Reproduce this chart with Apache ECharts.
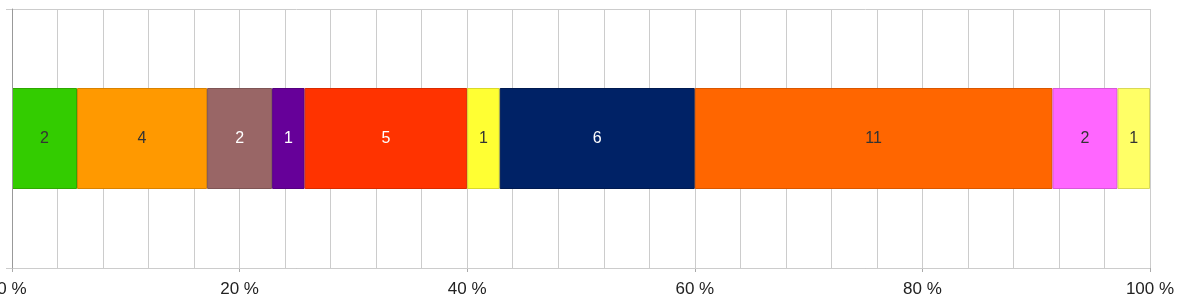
<!DOCTYPE html>
<html><head><meta charset="utf-8">
<script src="https://cdn.jsdelivr.net/npm/echarts@6/dist/echarts.min.js"></script>
<style>html,body{margin:0;padding:0;background:#fff}#c{width:1187px;height:306px}</style>
</head><body><div id="c"></div>
<script>
var categories = ['A'];
var values = [2, 4, 2, 1, 5, 1, 6, 11, 2, 1];
var colors = ['#33cc00', '#ff9900', '#996666', '#660099', '#ff3300', '#ffff33', '#002266', '#ff6600', '#ff66ff', '#ffff66'];
var borders = ['#2ea800', '#d98200', '#7f5555', '#55007f', '#d92b00', '#d9d92b', '#001a50', '#d95700', '#d957d9', '#d9d957'];
var labelColors = ['#333', '#333', '#fff', '#fff', '#fff', '#333', '#fff', '#333', '#333', '#333'];
var xTicks = [0, 20, 40, 60, 80, 100];
var total = values.reduce(function(a, b){ return a + b; }, 0);
var series = values.map(function(v, i){
  return {
    type: 'bar', stack: 's', barWidth: 101,
    data: [v / total * 100],
    itemStyle: { color: colors[i], borderColor: borders[i], borderWidth: 1 },
    label: { show: true, position: 'inside', formatter: String(v), color: labelColors[i],
             fontSize: 16, fontFamily: 'Liberation Sans, Arial, sans-serif' }
  };
});
var chart = echarts.init(document.getElementById('c'));
chart.setOption({
  animation: false,
  grid: { left: 12, right: 37, top: 9, bottom: 38, containLabel: false, outerBoundsMode: 'none' },
  xAxis: {
    type: 'value', min: 0, max: 100, interval: 20,
    axisLine: { show: true, lineStyle: { color: '#aaa', width: 1 } },
    axisTick: { show: true, length: 4, lineStyle: { color: '#aaa' } },
    axisLabel: { formatter: function(v){ return xTicks.indexOf(v) >= 0 ? v + ' %' : ''; },
                 color: '#222', fontSize: 17, margin: 13, fontFamily: 'Liberation Sans, Arial, sans-serif' },
    splitLine: { show: true, lineStyle: { color: '#ccc', width: 1 } },
    minorTick: { show: false, splitNumber: 5 },
    minorSplitLine: { show: true, lineStyle: { color: '#ccc', width: 1 } }
  },
  yAxis: {
    type: 'category', data: categories, z: 5,
    axisLine: { show: true, lineStyle: { color: '#999' } },
    axisTick: { show: true, length: 6, lineStyle: { color: '#ccc' } },
    axisLabel: { show: false },
    splitLine: { show: true, lineStyle: { color: '#ccc' } }
  },
  series: series
});
</script></body></html>
